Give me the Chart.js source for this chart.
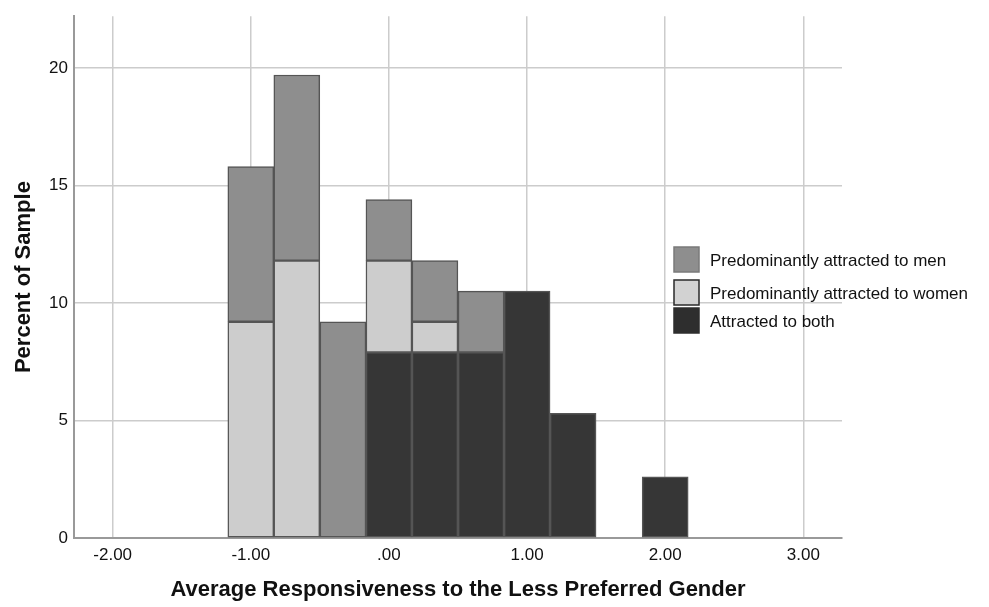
<!DOCTYPE html>
<html>
<head>
<meta charset="utf-8">
<script src="https://cdn.jsdelivr.net/npm/chart.js@4.4.1/dist/chart.umd.min.js"></script>
<style>
  html, body { margin: 0; padding: 0; background: #fff; }
  canvas { display: block; }
</style>
</head>
<body>
<canvas id="mainChart" width="989" height="607"></canvas>
<script>
// ===== DATA =====
const binCenters = [-1.0, -0.667, -0.333, 0.0, 0.333, 0.667, 1.0, 1.333, 2.0];
const menPct   = [6.6, 7.9, 9.2, 2.6, 2.6, 2.6, null, null, null];
const womenPct = [9.2, 11.8, null, 3.9, 1.3, null, null, null, null];
const bothPct  = [null, null, null, 7.9, 7.9, 7.9, 10.5, 5.3, 2.6];

const xTickValues = [-2, -1, 0, 1, 2, 3];
const xTickLabels = ["-2.00", "-1.00", ".00", "1.00", "2.00", "3.00"];
const yTickValues = [0, 5, 10, 15, 20];

const seriesNames = [
  "Predominantly attracted to men",
  "Predominantly attracted to women",
  "Attracted to both"
];

// ===== STYLE =====
const FONT = "'Liberation Sans', Arial, sans-serif";
const COLORS = { men: "#8e8e8e", women: "#cdcdcd", both: "#363636" };

function toPoints(values) {
  return binCenters.map((x, i) => ({ x: x, y: values[i] }));
}

// legend drawn over the plot, like the SPSS output
const legendPlugin = {
  id: "spssLegend",
  afterDraw(chart) {
    const ctx = chart.ctx;
    const items = [
      { label: seriesNames[0], fill: COLORS.men, stroke: "#7a7a7a", y: 247 },
      { label: seriesNames[1], fill: "#d2d2d2", stroke: "#2a2a2a", y: 280 },
      { label: seriesNames[2], fill: "#2e2e2e", stroke: "#2e2e2e", y: 308 }
    ];
    ctx.save();
    ctx.font = "17px " + FONT;
    ctx.textBaseline = "middle";
    for (const it of items) {
      ctx.fillStyle = it.fill;
      ctx.fillRect(674, it.y, 25, 25);
      ctx.strokeStyle = it.stroke;
      ctx.lineWidth = 1.5;
      ctx.strokeRect(674, it.y, 25, 25);
      ctx.fillStyle = "#111";
      ctx.fillText(it.label, 710, it.y + 14);
    }
    ctx.restore();
  }
};

const barStyle = {
  borderColor: "#555",
  borderWidth: 1.5,
  borderSkipped: false,
  barPercentage: 1.0,
  categoryPercentage: 1.0
};

new Chart(document.getElementById("mainChart"), {
  type: "bar",
  data: {
    datasets: [
      Object.assign({ label: seriesNames[2], data: toPoints(bothPct), backgroundColor: COLORS.both }, barStyle),
      Object.assign({ label: seriesNames[1], data: toPoints(womenPct), backgroundColor: COLORS.women }, barStyle),
      Object.assign({ label: seriesNames[0], data: toPoints(menPct), backgroundColor: COLORS.men }, barStyle)
    ]
  },
  options: {
    responsive: false,
    animation: false,
    devicePixelRatio: 1,
    layout: { padding: { left: 0, top: 13, right: 147, bottom: 4 } },
    plugins: { legend: { display: false }, tooltip: { enabled: false } },
    scales: {
      x: {
        type: "linear",
        stacked: true,
        offset: false,
        min: -2.28,
        max: 3.28,
        afterBuildTicks: s => { s.ticks = xTickValues.map(v => ({ value: v })); },
        afterFit: s => { s.height = 65; },
        grid: { offset: false, color: "#cccccc", lineWidth: 1.5, drawTicks: false },
        border: { color: "#999", width: 2 },
        ticks: {
          color: "#111",
          font: { family: FONT, size: 17 },
          padding: 7,
          maxRotation: 0,
          callback: v => xTickLabels[xTickValues.indexOf(v)]
        },
        title: {
          display: true,
          text: "Average Responsiveness to the Less Preferred Gender",
          color: "#111",
          font: { family: FONT, size: 22, weight: "bold" },
          padding: { top: 0, bottom: 0 }
        }
      },
      y: {
        stacked: true,
        min: 0,
        max: 22.2,
        afterBuildTicks: s => { s.ticks = yTickValues.map(v => ({ value: v })); },
        afterFit: s => { s.width = 74; },
        grid: { color: "#cccccc", lineWidth: 1.5, drawTicks: false },
        border: { color: "#999", width: 2 },
        ticks: {
          color: "#111",
          font: { family: FONT, size: 17 },
          padding: 6
        },
        title: {
          display: true,
          text: "Percent of Sample",
          color: "#111",
          font: { family: FONT, size: 22, weight: "bold" },
          padding: { top: 11, bottom: 0 }
        }
      }
    }
  },
  plugins: [legendPlugin]
});
</script>
</body>
</html>
